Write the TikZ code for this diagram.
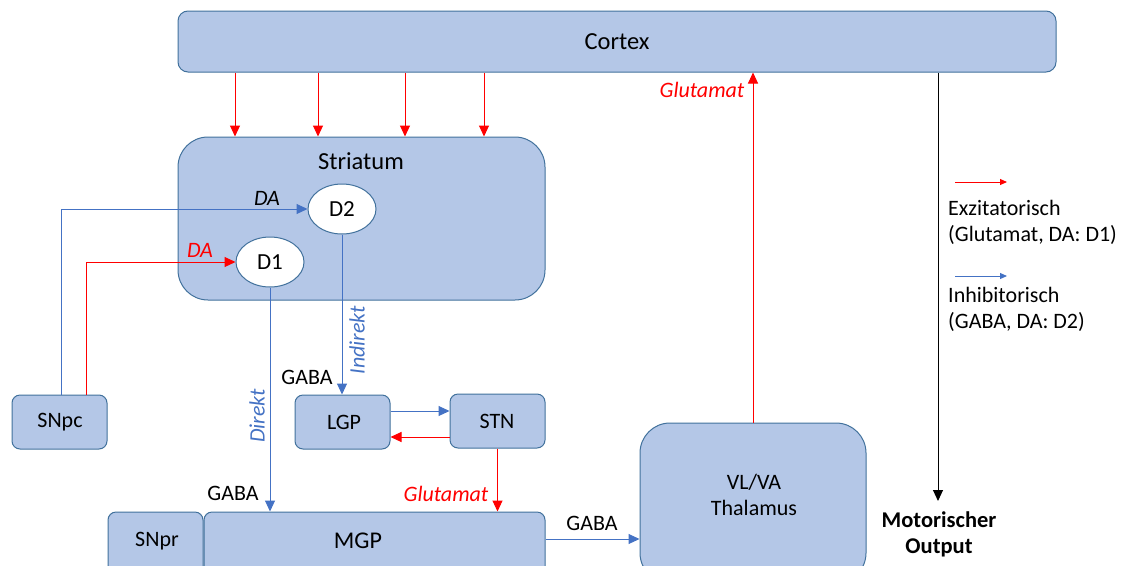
\documentclass[tikz,border=0pt]{standalone}
\usepackage{fontspec}
\setmainfont{Carlito}
\usetikzlibrary{arrows.meta,shapes.geometric}
\definecolor{boxfill}{HTML}{B4C7E7}
\definecolor{boxline}{HTML}{41719C}
\definecolor{inhblue}{HTML}{4472C4}
\definecolor{excred}{HTML}{FF0000}
\tikzset{
  box/.style={draw=boxline, fill=boxfill, line width=1pt, inner sep=0pt},
  txt/.style={font=\fontsize{22}{26}\selectfont, inner sep=0pt, align=center},
  bigtxt/.style={txt, font=\fontsize{24.5}{29}\selectfont},
  itxt/.style={txt, font=\fontsize{22}{26}\selectfont\itshape},
  exc/.style={draw=excred, line width=1pt, -{Triangle[length=11pt,width=10pt]}},
  inh/.style={draw=inhblue, line width=1pt, -{Triangle[length=11pt,width=10pt]}},
  legexc/.style={draw=excred, line width=1pt, -{Triangle[length=7pt,width=6pt]}},
  leginh/.style={draw=inhblue, line width=1pt, -{Triangle[length=7pt,width=6pt]}},
  recv/.style={draw=boxline, fill=white, line width=1pt, ellipse, minimum width=68pt, minimum height=50pt, inner sep=0pt}
}
\begin{document}
\begin{tikzpicture}[x=1pt, y=-1pt]
  \useasboundingbox (0,0) rectangle (1123,565);
  \clip (0,0) rectangle (1123,565);

  % main structures
  \node[box, rounded corners=10pt, minimum width=878pt, minimum height=61pt] (cortex) at (617,41.5) {};
  \node[bigtxt] (cortexlabel) at (617,42) {Cortex};
  \node[box, rounded corners=30pt, minimum width=367pt, minimum height=163pt] (striatum) at (361.5,218.5) {};
  \node[bigtxt] (striatumlabel) at (361,161) {Striatum};
  \node[recv] (d2) at (342,209) {};
  \node[txt, font=\fontsize{23}{27}\selectfont] (d2label) at (342,209) {D2};
  \node[recv] (d1) at (270,262) {};
  \node[txt, font=\fontsize{23}{27}\selectfont] (d1label) at (270,262) {D1};

  \node[box, rounded corners=8pt, minimum width=95pt, minimum height=54pt] (snpc) at (59.5,422) {};
  \node[txt] (snpclabel) at (60,422) {SNpc};
  \node[box, rounded corners=8pt, minimum width=95pt, minimum height=54pt] (lgp) at (342.5,422) {};
  \node[txt] (lgplabel) at (344,422) {LGP};
  \node[box, rounded corners=8pt, minimum width=95pt, minimum height=54pt] (stn) at (497.5,421) {};
  \node[txt] (stnlabel) at (497,421) {STN};
  \node[box, rounded corners=8pt, minimum width=95pt, minimum height=78pt] (snpr) at (155.5,551) {};
  \node[txt] (snprlabel) at (157,541) {SNpr};
  \node[box, rounded corners=8pt, minimum width=341pt, minimum height=78pt] (mgp) at (374.5,551) {};
  \node[txt, font=\fontsize{24}{28}\selectfont] (mgplabel) at (358,541) {MGP};
  \node[box, rounded corners=30pt, minimum width=226pt, minimum height=160pt] (thal) at (753,503) {};
  \node[txt] (thallabel) at (754,495) {VL/VA\\Thalamus};

  % cortical input to striatum
  \foreach \xx in {235,318,405,484}
    \draw[exc] (cortex.south -| \xx,0) -- (striatum.north -| \xx,0);

  % dopaminergic input from SNpc
  \draw[inh] (snpc.north -| 61,0) |- (d2.west);
  \node[itxt] (da2) at (267,198) {DA};
  \draw[exc] (snpc.north -| 86,0) |- (d1.west);
  \node[itxt, text=excred] (da1) at (200,250) {DA};

  % direct pathway
  \draw[inh] (d1.south) -- (d1.south |- mgp.north);
  \node[itxt, text=inhblue, rotate=90] (direkt) at (257,416) {Direkt};
  \node[txt] (gaba1) at (233,493) {GABA};

  % indirect pathway
  \draw[inh] (d2.south) -- (d2.south |- lgp.north);
  \node[itxt, text=inhblue, rotate=90] (indirekt) at (357,340) {Indirekt};
  \node[txt] (gaba2) at (307,377) {GABA};
  \draw[inh] (lgp.east |- 0,411) -- (stn.west |- 0,411);
  \draw[exc] (stn.west |- 0,437) -- (lgp.east |- 0,437);
  \draw[exc] (stn.south) -- (stn.south |- mgp.north);
  \node[itxt, text=excred] (glut1) at (446,494) {Glutamat};

  % output nuclei to thalamus and back to cortex
  \draw[inh] (mgp.east |- 0,539) -- (thal.west |- 0,539);
  \node[txt] (gaba3) at (592,523) {GABA};
  \draw[exc] (thal.north) -- (thal.north |- cortex.south);
  \node[itxt, text=excred] (glut2) at (702,90) {Glutamat};

  % motor output
  \coordinate (outtip) at (938,501);
  \draw[draw=black, line width=1pt, -{Triangle[length=11pt,width=10pt]}] (cortex.south -| outtip) -- (outtip);
  \node[txt, font=\fontsize{22.5}{26}\selectfont\bfseries] (output) at (939,534) {Motorischer\\Output};

  % legend
  \coordinate (le1) at (955,182);
  \coordinate (le2) at (1007,182);
  \draw[legexc] (le1) -- (le2);
  \node[txt, align=left, anchor=west] (legexctext) at (948,222) {Exzitatorisch\\(Glutamat, DA: D1)};
  \coordinate (li1) at (955,276);
  \coordinate (li2) at (1007,276);
  \draw[leginh] (li1) -- (li2);
  \node[txt, align=left, anchor=west] (leginhtext) at (948,309) {Inhibitorisch\\(GABA, DA: D2)};
\end{tikzpicture}
\end{document}
